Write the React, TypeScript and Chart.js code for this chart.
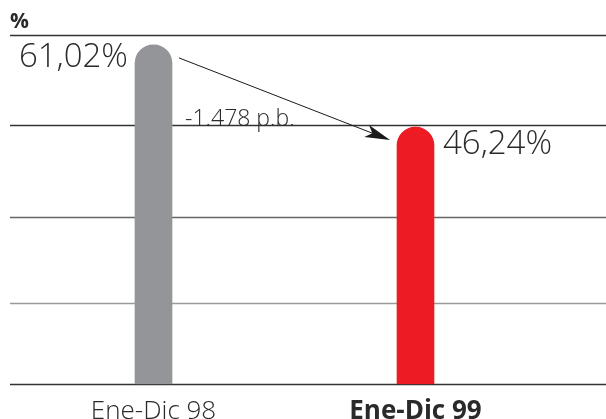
import React, { useEffect, useRef } from "react";
import { Chart, registerables } from "chart.js";

Chart.register(...registerables);

const categories = ["Ene-Dic 98", "Ene-Dic 99"];
const values = [61.02, 46.24];
const valueLabels = ["61,02%", "46,24%"];
const changeLabel = "-1.478 p.b.";
const unitLabel = "%";
const gridValues = [0, 14.6, 30.1, 46.6, 62.8];
const gridColors = ["#333333", "#9a9a9a", "#666666", "#333333", "#333333"];
const barColors = ["#939598", "#ED1C24"];
const yMax = 62.8;

const FONT = "'Open Sans', 'DejaVu Sans', sans-serif";
const TEXT = "#2a2a2a";

const decor = {
  id: "decor",
  beforeDatasetsDraw(chart: any) {
    const { ctx } = chart;
    const y = chart.scales.y;
    ctx.save();
    gridValues.forEach((v, i) => {
      const py = Math.round(y.getPixelForValue(v)) + 0.5;
      ctx.strokeStyle = gridColors[i];
      ctx.lineWidth = 1.4;
      ctx.beginPath();
      ctx.moveTo(10, py);
      ctx.lineTo(chart.width, py);
      ctx.stroke();
    });
    ctx.restore();
  },
  afterDatasetsDraw(chart: any) {
    const { ctx } = chart;
    const meta = chart.getDatasetMeta(0);
    const b0 = meta.data[0];
    const b1 = meta.data[1];
    const w0 = b0.width / 2;
    const w1 = b1.width / 2;
    ctx.save();
    ctx.fillStyle = TEXT;

    // unit header
    ctx.font = `bold 21px ${FONT}`;
    ctx.textAlign = "left";
    ctx.textBaseline = "alphabetic";
    ctx.fillText(unitLabel, 10, 28);

    // value labels
    ctx.font = `300 33px ${FONT}`;
    ctx.textAlign = "right";
    ctx.fillText(valueLabels[0], b0.x - w0 - 7, b0.y + 22);
    ctx.textAlign = "left";
    ctx.fillText(valueLabels[1], b1.x + w1 + 9, b1.y + 27);

    // change label
    ctx.font = `300 23px ${FONT}`;
    ctx.textAlign = "left";
    ctx.fillText(changeLabel, b0.x + w0 + 13, 126);

    // arrow
    const x1 = b0.x + w0 + 7;
    const y1 = b0.y + 13;
    const x2 = b1.x - w1 - 7;
    const y2 = b1.y + 13;
    const ang = Math.atan2(y2 - y1, x2 - x1);
    const L = 25;
    ctx.strokeStyle = "#1a1a1a";
    ctx.lineWidth = 1;
    ctx.beginPath();
    ctx.moveTo(x1, y1);
    ctx.lineTo(x2 - Math.cos(ang) * (L - 6), y2 - Math.sin(ang) * (L - 6));
    ctx.stroke();
    ctx.fillStyle = "#1a1a1a";
    ctx.beginPath();
    ctx.moveTo(x2, y2);
    const bx = x2 - Math.cos(ang) * L;
    const by = y2 - Math.sin(ang) * L;
    const nx = -Math.sin(ang);
    const ny = Math.cos(ang);
    ctx.lineTo(bx + nx * 6.5, by + ny * 6.5);
    const mx = x2 - Math.cos(ang) * (L - 6);
    const my = y2 - Math.sin(ang) * (L - 6);
    ctx.lineTo(mx, my);
    ctx.lineTo(bx - nx * 6.5, by - ny * 6.5);
    ctx.closePath();
    ctx.fill();
    ctx.restore();
  },
};

export default function App() {
  const ref = useRef<HTMLCanvasElement>(null);
  useEffect(() => {
    document.body.style.margin = "0";
    const chart = new Chart(ref.current as HTMLCanvasElement, {
      type: "bar",
      data: {
        labels: categories,
        datasets: [
          {
            data: values,
            backgroundColor: barColors,
            barThickness: 37,
            borderRadius: { topLeft: 18.5, topRight: 18.5, bottomLeft: 0, bottomRight: 0 },
            borderSkipped: "bottom",
          },
        ],
      },
      options: {
        animation: false,
        responsive: false,
        layout: { padding: { left: 22.5, right: 59.5, top: 35, bottom: -12 } },
        plugins: { legend: { display: false }, tooltip: { enabled: false } },
        scales: {
          x: {
            grid: { display: false },
            border: { display: false },
            ticks: {
              color: TEXT,
              padding: 9,
              font: (c: any) => ({
                family: FONT,
                size: 26,
                weight: c.index === 1 ? "bold" : "300",
                lineHeight: 0.8,
              }),
            },
          },
          y: {
            display: false,
            min: 0,
            max: yMax,
          },
        },
      },
      plugins: [decor],
    });
    return () => chart.destroy();
  }, []);
  return (
    <div style={{ width: 606, height: 419, background: "#fff" }}>
      <canvas ref={ref} width={606} height={419} style={{ display: "block" }} />
    </div>
  );
}
